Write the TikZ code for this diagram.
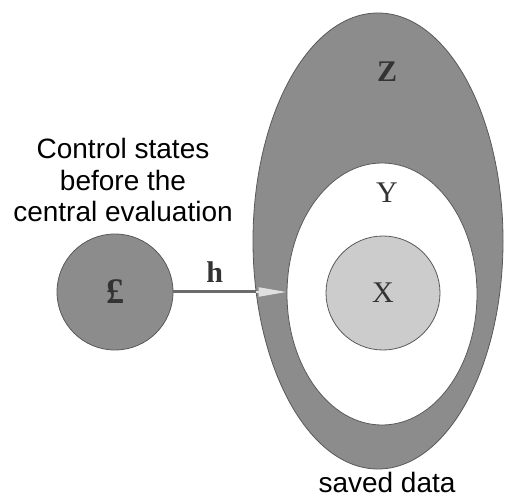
\documentclass[tikz,border=0pt]{standalone}
\usepackage{fontspec}
\setmainfont{Liberation Sans}
\newfontfamily\lettersfont{Liberation Serif}
\usepackage{xcolor}
\usepackage{tikz}
\usetikzlibrary{arrows.meta}
\usetikzlibrary{shapes.geometric}

\definecolor{ringgray}{gray}{0.55}
\definecolor{coregray}{gray}{0.80}
\definecolor{stemgray}{gray}{0.42}
\definecolor{tipgray}{gray}{0.88}

\begin{document}
\begin{tikzpicture}[x=1pt, y=1pt,
    sets/.style={ellipse, inner sep=0pt, draw=black!65, line width=0.8pt},
    disc/.style={circle, inner sep=0pt, draw=black!65, line width=0.8pt},
    lt/.style={font=\lettersfont\fontsize{30}{30}\selectfont, text=black!80},
    captxt/.style={font=\fontsize{28}{31.5}\selectfont, align=center, inner sep=0pt},
    stem/.style={draw=stemgray, line width=3pt},
    pointer/.style={draw=tipgray, line width=2pt, -{Triangle[length=28pt, width=9pt]}}]
  \useasboundingbox (0,0) rectangle (505,498);
  % saved data, nested
  \node[sets, fill=ringgray, minimum width=250, minimum height=456] (Zset) at (378,257) {};
  \node[sets, fill=white, minimum width=190, minimum height=262] (Yset) at (382,204) {};
  \node[disc, fill=coregray, minimum size=114, lt] (Xset) at (383,205) {X};
  \node[lt] (Zlab) at (387,426) {\bfseries Z};
  \node[lt] (Ylab) at (387,305) {Y};
  % control states
  \node[disc, fill=ringgray, minimum size=116, lt] (L) at (115,206) {\fontsize{36}{36}\selectfont\bfseries £};
  \coordinate (hit) at (256,206);
  \coordinate (tip) at (Yset.west |- L.east);
  \draw[stem] (L) -- node[lt, above=8pt, inner sep=0pt] (hlab) {\bfseries h} (hit);
  \draw[pointer] (hit) -- (tip);
  % captions
  \node[captxt, anchor=south] (ctrl) at (123,276) {Control states\\before the\\central evaluation};
  \node[captxt, anchor=base] (saved) at (387,6) {saved data};
\end{tikzpicture}
\end{document}
